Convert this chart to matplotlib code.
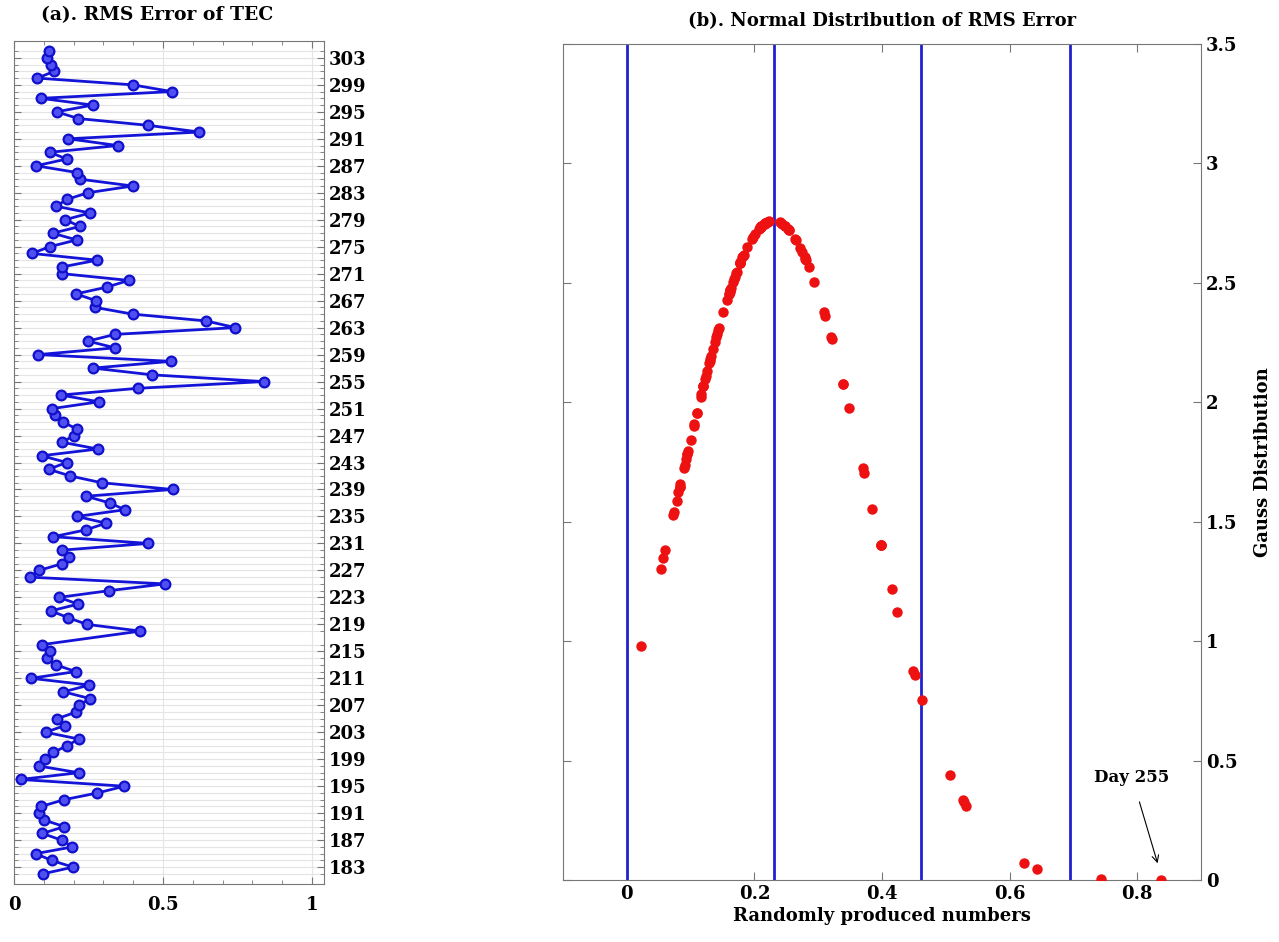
import numpy as np
import matplotlib
matplotlib.use("Agg")
import matplotlib.pyplot as plt
from matplotlib.ticker import MultipleLocator

plt.rcParams['font.family'] = ['DejaVu Serif', 'DejaVu Sans']
plt.rcParams['font.weight'] = 'bold'

# day of year (day 217 has no value)
days = list(range(182, 217)) + list(range(218, 305))

# RMS error of TEC, one value per day above
rms = [
    0.096, 0.198, 0.126, 0.073, 0.196, 0.160, 0.095, 0.169, 0.100, 0.083,   # 182-191
    0.091, 0.168, 0.280, 0.370, 0.022, 0.217, 0.083, 0.105, 0.131, 0.178,   # 192-201
    0.217, 0.106, 0.171, 0.144, 0.209, 0.219, 0.254, 0.166, 0.253, 0.057,   # 202-211
    0.207, 0.140, 0.110, 0.120, 0.095,                                      # 212-216
    0.424, 0.244, 0.181, 0.124, 0.215, 0.151, 0.320, 0.507, 0.053, 0.084,   # 218-227
    0.162, 0.183, 0.160, 0.451, 0.132, 0.240, 0.309, 0.211, 0.372, 0.321,   # 228-237
    0.242, 0.532, 0.294, 0.189, 0.116, 0.177, 0.093, 0.281, 0.162, 0.201,   # 238-247
    0.210, 0.163, 0.138, 0.129, 0.285, 0.157, 0.415, 0.838, 0.463, 0.265,   # 248-257
    0.527, 0.081, 0.339, 0.248, 0.339, 0.743, 0.643, 0.398, 0.272, 0.275,   # 258-267
    0.208, 0.311, 0.385, 0.162, 0.161, 0.279, 0.060, 0.120, 0.210, 0.130,   # 268-277
    0.221, 0.172, 0.255, 0.141, 0.177, 0.248, 0.398, 0.223, 0.211, 0.074,   # 278-287
    0.177, 0.120, 0.348, 0.182, 0.622, 0.449, 0.216, 0.143, 0.264, 0.090,   # 288-297
    0.529, 0.398, 0.078, 0.135, 0.123, 0.110, 0.117,                        # 298-304
]

# normal distribution parameters
mu = 0.23
sigma = 0.1445
vlines_x = [0.0, 0.23, 0.461, 0.694]

day_ticks = list(range(183, 304, 4))

rms = np.array(rms)
gauss = np.exp(-(rms - mu) ** 2 / (2 * sigma ** 2)) / (sigma * np.sqrt(2 * np.pi))

fig = plt.figure(figsize=(12.79, 9.42), dpi=100)
spine_col = '#777777'

# ---- (a) ----
ax1 = fig.add_axes([14 / 1279, 1 - 884 / 942, 310 / 1279, 843 / 942])
ax1.plot(rms, days, color='#1414d8', lw=2, marker='o', ms=7,
         mfc='#5050f2', mec='#1010cc', mew=1.6, zorder=3)
ax1.set_xlim(0, 1.04)
ax1.set_ylim(180.5, 305.5)
ax1.set_xticks([0, 0.5, 1])
ax1.set_xticklabels(['0', '0.5', '1'])
ax1.xaxis.set_minor_locator(MultipleLocator(0.1))
ax1.set_yticks(day_ticks)
ax1.set_yticks(days, minor=True)
ax1.yaxis.tick_right()
ax1.tick_params(which='both', direction='in', top=True, bottom=True, left=True, right=True,
                color=spine_col, labelsize=13)
ax1.tick_params(which='major', length=5)
ax1.tick_params(which='minor', length=3)
ax1.tick_params(axis='x', pad=9)
ax1.grid(which='minor', axis='y', color='#e4e4e4', lw=0.8)
ax1.grid(which='major', axis='both', color='#e4e4e4', lw=0.8)
ax1.set_axisbelow(True)
for s in ax1.spines.values():
    s.set_color(spine_col)
ax1.set_title('(a). RMS Error of TEC', fontsize=13.5, fontweight='bold', x=0.463, pad=15)

# ---- (b) ----
ax2 = fig.add_axes([563 / 1279, 1 - 880 / 942, 638 / 1279, 836 / 942])
for xv in vlines_x:
    ax2.axvline(xv, color='#2020d0', lw=2, zorder=2)
ax2.plot(rms, gauss, 'o', color='#ee1111', ms=7.5, mec='none', zorder=3)
ax2.set_xlim(-0.1, 0.9)
ax2.set_ylim(0, 3.5)
ax2.set_xticks([0, 0.2, 0.4, 0.6, 0.8])
ax2.set_xticklabels(['0', '0.2', '0.4', '0.6', '0.8'])
ax2.set_yticks(np.arange(0, 3.51, 0.5))
ax2.set_yticklabels(['0', '0.5', '1', '1.5', '2', '2.5', '3', '3.5'])
ax2.yaxis.tick_right()
ax2.yaxis.set_label_position('right')
ax2.tick_params(which='both', direction='in', top=True, bottom=True, left=True, right=True,
                color=spine_col, labelsize=13, length=6)
for s in ax2.spines.values():
    s.set_color(spine_col)
ax2.set_xlabel('Randomly produced numbers', fontsize=13, fontweight='bold', labelpad=3)
ax2.set_ylabel('Gauss Distribution', fontsize=13, fontweight='bold', labelpad=12)
ax2.set_title('(b). Normal Distribution of RMS Error', fontsize=13, fontweight='bold', pad=13)

ax2.annotate('Day 255', xy=(0.832, 0.07), xytext=(0.792, 0.43),
             ha='center', va='center', fontsize=12, fontweight='bold',
             arrowprops=dict(arrowstyle='->', color='black', lw=0.8,
                             shrinkA=10, shrinkB=0))

fig.savefig('out.png', dpi=100)
